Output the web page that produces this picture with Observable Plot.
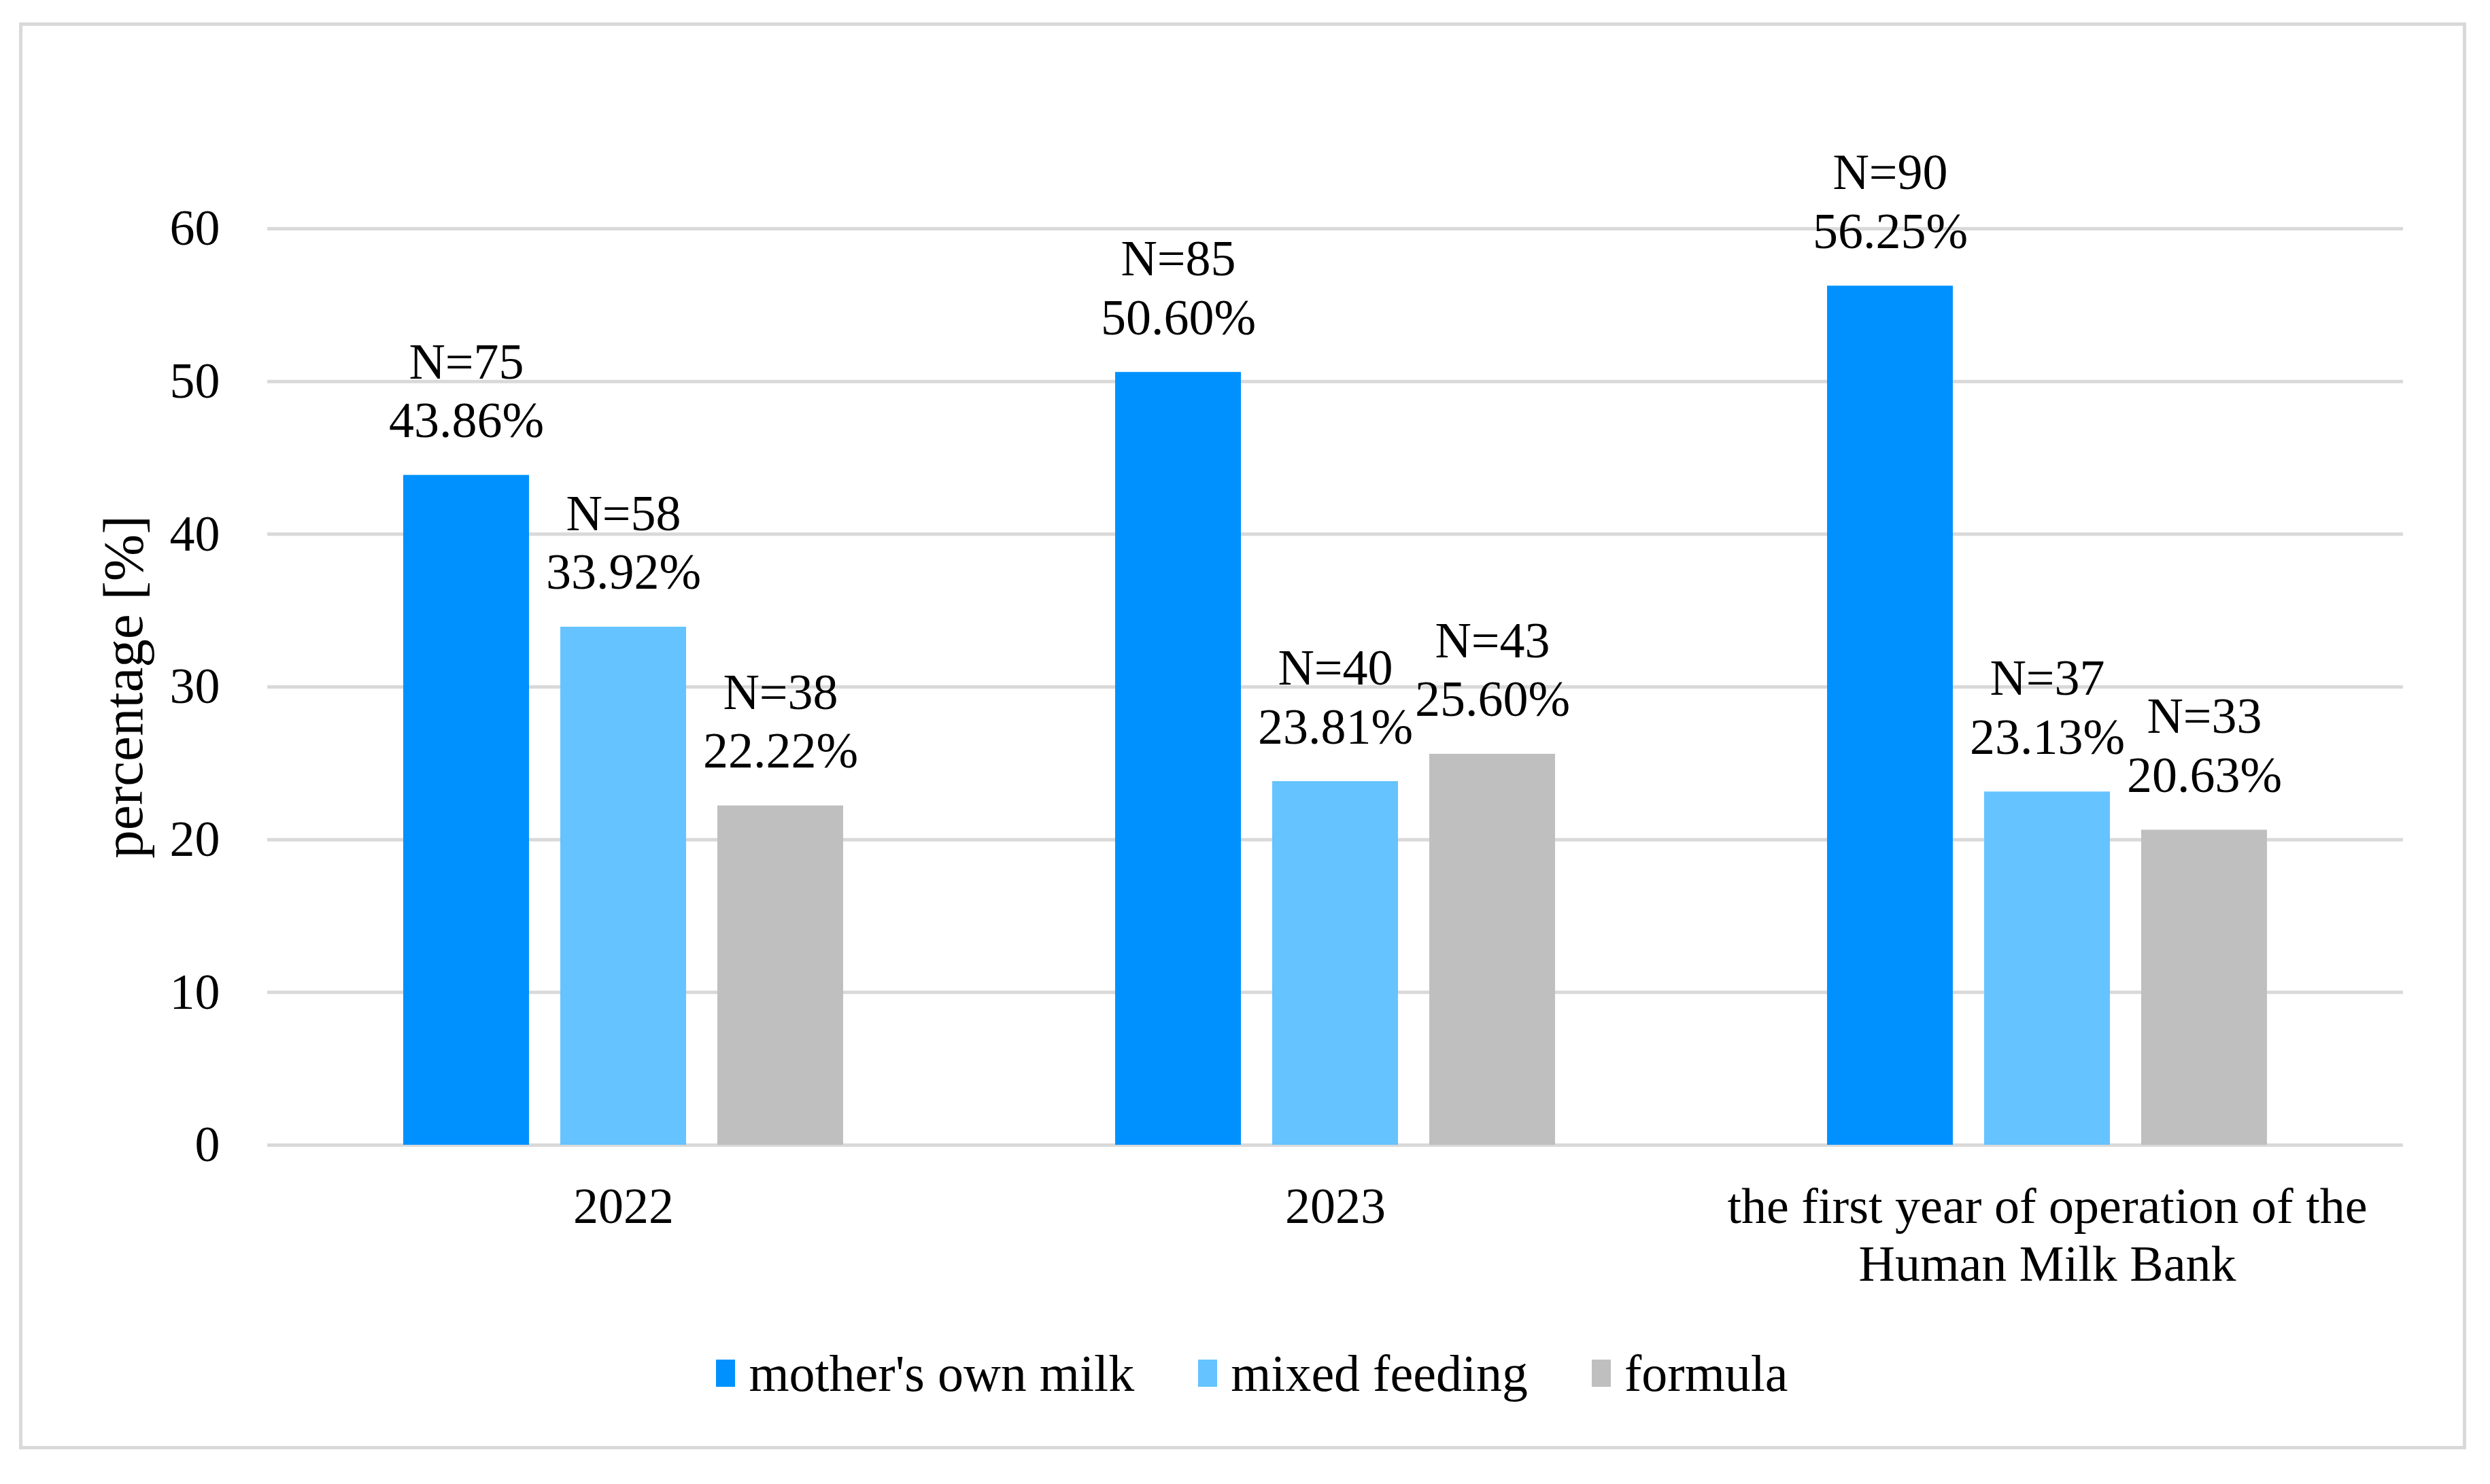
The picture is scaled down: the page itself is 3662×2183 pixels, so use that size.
<!DOCTYPE html>
<html>
<head>
<meta charset="utf-8">
<script src="https://cdn.jsdelivr.net/npm/d3@7"></script>
<script src="https://cdn.jsdelivr.net/npm/@observablehq/plot@0.6"></script>
<style>
  html, body { margin: 0; padding: 0; background: #ffffff; }
  body { width: 3662px; height: 2183px; position: relative; font-family: "Liberation Serif", "Times New Roman", serif; }
  #frame {
    position: absolute; left: 28px; top: 33px; width: 3599px; height: 2099px;
    box-sizing: border-box; border: 5px solid #d9d9d9; background: #ffffff;
  }
  #chart { position: absolute; left: 0; top: 0; }
  #legend {
    position: absolute; left: 0; right: 0; top: 1942px; height: 80px; padding-left: 28px;
    display: flex; justify-content: center; align-items: center;
    font-size: 76px; color: #000; font-family: "Liberation Serif", "Times New Roman", serif;
  }
  .item { display: flex; align-items: center; margin: 0 47px; }
  .sw { width: 28px; height: 40px; margin-right: 20px; display: inline-block; }
</style>
</head>
<body>
<div id="frame">
  <div id="chart"></div>
  <div id="legend"></div>
</div>
<script>
// ---- data ----
const categories = ["2022", "2023", "the first year of operation of the Human Milk Bank"];
const categoryLabels = ["2022", "2023", "the first year of operation of the\nHuman Milk Bank"];
const series = ["mother's own milk", "mixed feeding", "formula"];
const colors = ["#0091ff", "#65c3ff", "#bfbfbf"];
const mothersOwnMilk = [43.86, 50.60, 56.25];
const mixedFeeding   = [33.92, 23.81, 23.13];
const formula        = [22.22, 25.60, 20.63];
const nMothersOwnMilk = [75, 85, 90];
const nMixedFeeding   = [58, 40, 37];
const nFormula        = [38, 43, 33];
const yTicks = [0, 10, 20, 30, 40, 50, 60];
const yLabel = "percentage [%]";

// ---- table built from arrays ----
const valuesBySeries = [mothersOwnMilk, mixedFeeding, formula];
const nBySeries = [nMothersOwnMilk, nMixedFeeding, nFormula];
const rows = [];
categories.forEach((c, i) => {
  series.forEach((s, j) => {
    rows.push({category: c, series: s, value: valuesBySeries[j][i], n: nBySeries[j][i]});
  });
});

const chart = Plot.plot({
  width: 3589,
  height: 1900,
  marginLeft: 359,
  marginRight: 88,
  marginTop: 298,
  marginBottom: 254,
  style: {fontFamily: "'Liberation Serif', 'Times New Roman', serif", fontSize: "74px", color: "#000", background: "transparent"},
  fx: {domain: categories, padding: 0},
  x: {domain: series, paddingInner: 0.2, paddingOuter: 0.86, axis: null},
  y: {domain: [0, 60]},
  color: {domain: series, range: colors},
  marks: [
    Plot.gridY(yTicks, {stroke: "#d9d9d9", strokeOpacity: 1, strokeWidth: 5}),
    Plot.axisY(yTicks, {tickSize: 0, tickPadding: 70, label: null}),
    Plot.axisY([], {tickSize: 0, label: yLabel, labelAnchor: "center", labelArrow: "none", labelOffset: 243, fontSize: 83}),
    Plot.axisFx({anchor: "bottom", tickSize: 0, tickPadding: 55, label: null, lineHeight: 1.14,
      tickFormat: d => categoryLabels[categories.indexOf(d)]}),
    Plot.barY(rows, {fx: "category", x: "series", y: "value", fill: "series"}),
    Plot.text(rows, {fx: "category", x: "series", y: "value",
      text: d => `N=${d.n}\n${d.value.toFixed(2)}%`, lineAnchor: "bottom", dy: -56, lineHeight: 1.17, fill: "#000"})
  ]
});
document.getElementById("chart").appendChild(chart);

const legend = document.getElementById("legend");
series.forEach((s, i) => {
  const item = document.createElement("div");
  item.className = "item";
  const sw = document.createElement("span");
  sw.className = "sw";
  sw.style.background = colors[i];
  const t = document.createElement("span");
  t.textContent = s;
  item.appendChild(sw);
  item.appendChild(t);
  legend.appendChild(item);
});
</script>
</body>
</html>
